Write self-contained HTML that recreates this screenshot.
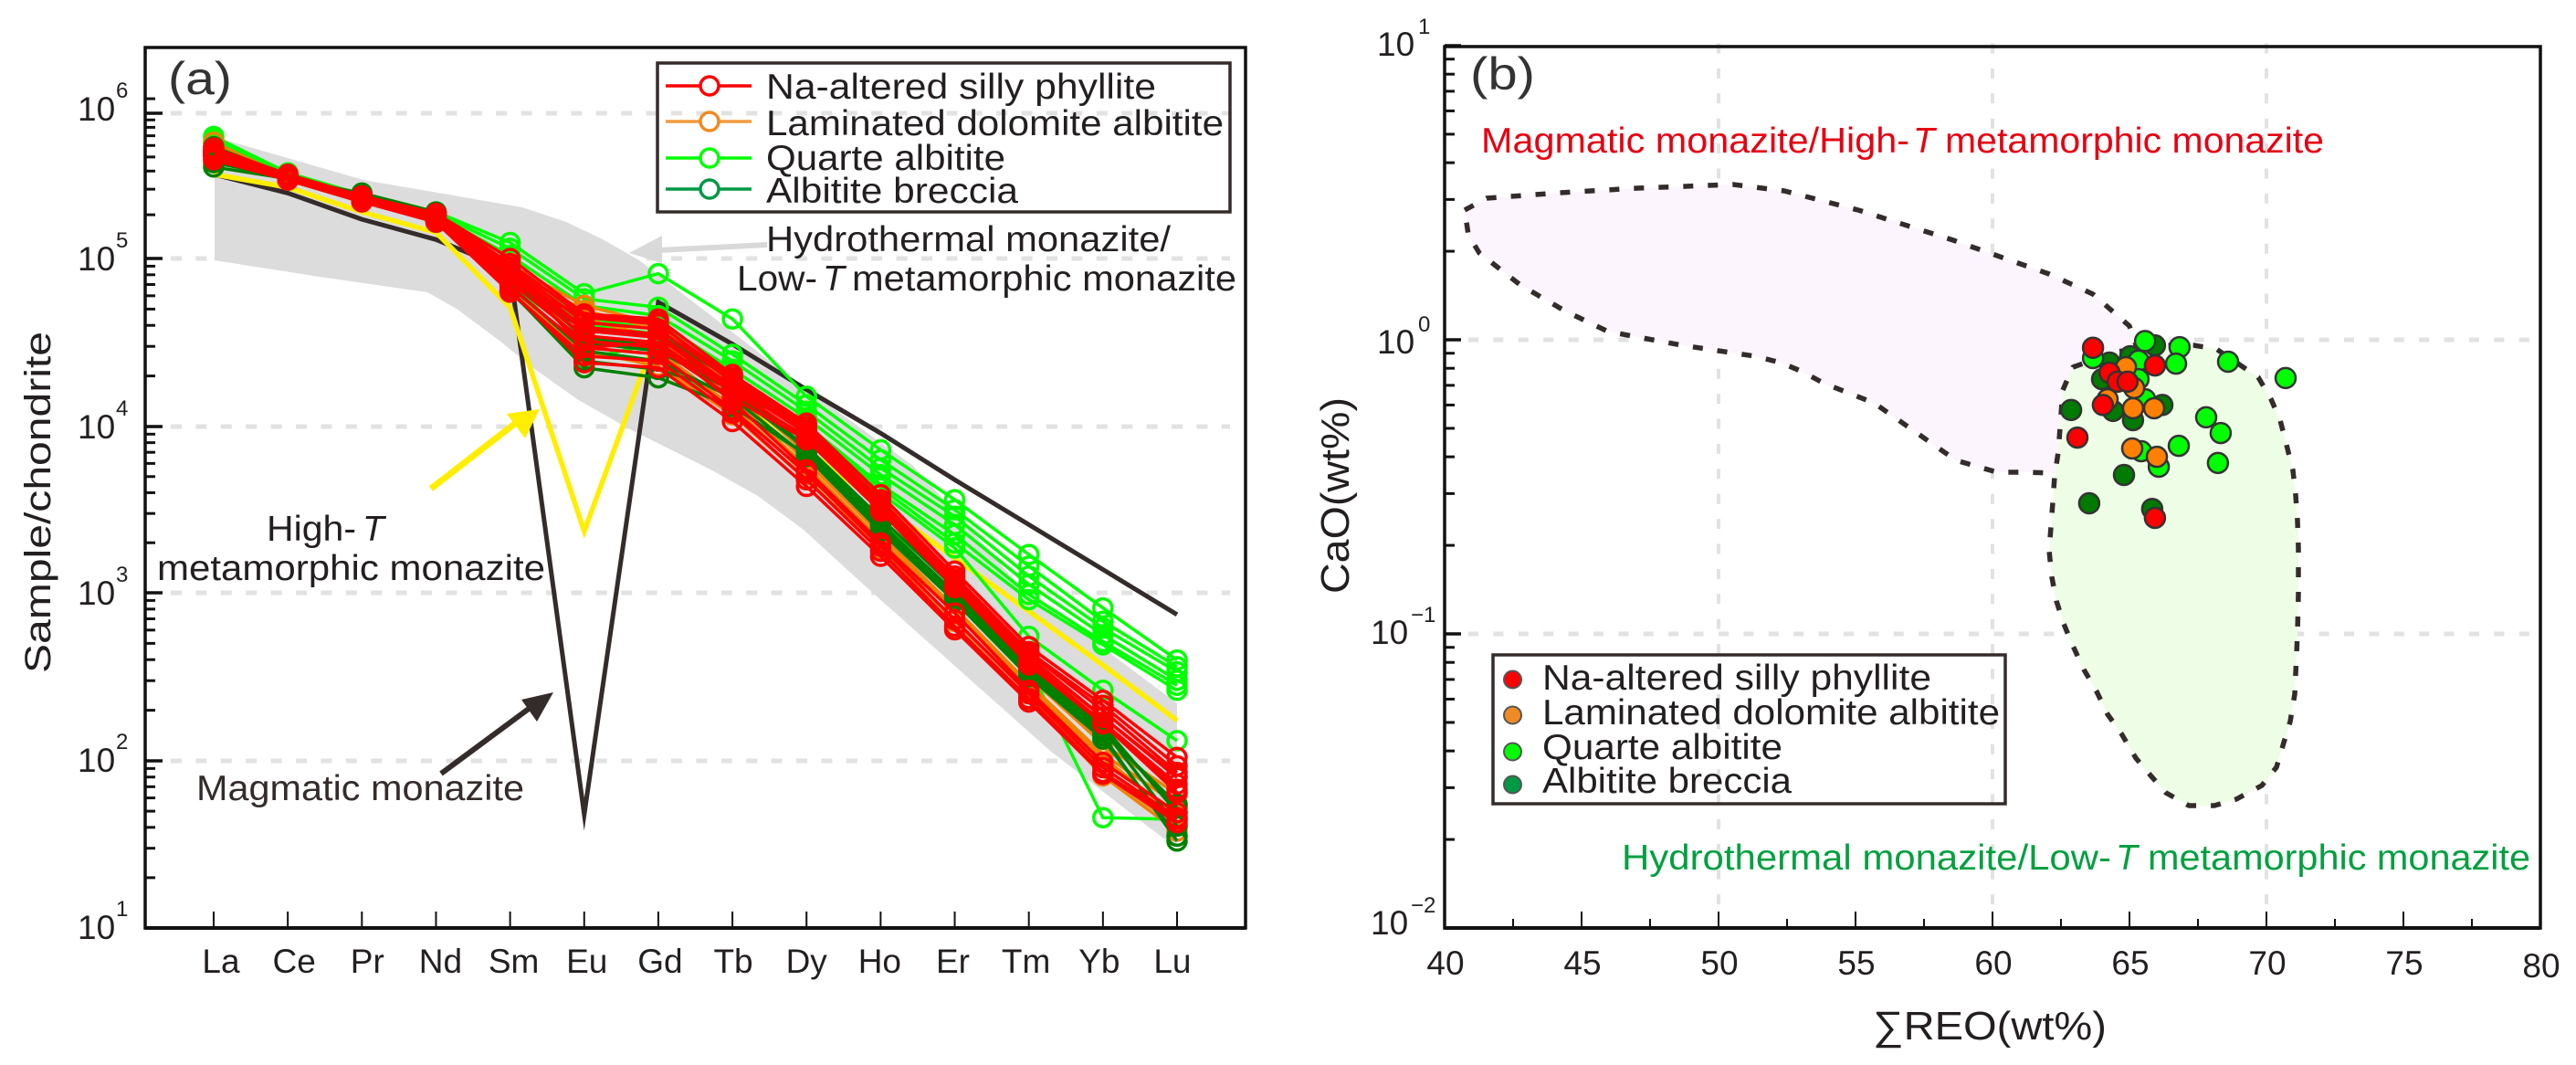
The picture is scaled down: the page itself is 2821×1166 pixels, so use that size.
<!DOCTYPE html>
<html lang="en">
<head>
<meta charset="utf-8">
<title>REE patterns and CaO vs total REO of monazite</title>
<style>
html,body{margin:0;padding:0;background:#fff;}
svg{display:block;}
text{font-family:"Liberation Sans",Arial,sans-serif;fill:#231f20;}
</style>
</head>
<body>
<svg id="figure" xmlns="http://www.w3.org/2000/svg" width="2821" height="1166" viewBox="0 0 2821 1166">
  <rect width="2821" height="1166" fill="#fff"/>

  <g id="panel-a">
    <g id="a-grid"></g>
    <path fill="#dcdcdc" d="M235,150 L398,197 L572,227 L620,243 L660,262 L700,285 L730,308 L800,362 L875,420 L1000,510 L1050,565 L1115,640 L1289,770 L1289,927 L1273,917 L1150,822 L1077,757 L949,643 L880,580 L830,543 L780,515 L690,470 L632,437 L580,400 L547,373 L500,338 L468,320 L350,303 L235,285 Z"/>
    <g id="a-reference"></g>
    <g id="a-series"></g>

    <g>
      <line x1="840" y1="268" x2="722" y2="274" stroke="#d9d9d9" stroke-width="6"/>
      <polygon points="689,277 725,258 725,288" fill="#d9d9d9"/>
    </g>
    <g>
      <line x1="472" y1="535" x2="570" y2="459" stroke="#ffee00" stroke-width="7"/>
      <polygon points="591,448 555,453 575,480" fill="#ffee00"/>
    </g>
    <g>
      <line x1="483" y1="847" x2="583" y2="773" stroke="#332c2a" stroke-width="6"/>
      <polygon points="606,758 571,766 588,790" fill="#332c2a"/>
    </g>

    <g id="a-axes"></g>
    <rect x="159" y="52" width="1205" height="964" fill="none" stroke="#111" stroke-width="3.5"/>
    <line x1="159" y1="1016" x2="1364" y2="1016" stroke="#111" stroke-width="4"/>

    <text x="184" y="103" font-size="50" textLength="70" lengthAdjust="spacingAndGlyphs" style="fill:#333">(a)</text>
    <text transform="translate(55,737) rotate(-90)" x="0" y="0" font-size="40" textLength="374" lengthAdjust="spacingAndGlyphs">Sample/chondrite</text>

    <g>
      <rect x="720" y="69" width="627" height="163" fill="none" stroke="#332c2a" stroke-width="3.5"/>
      <g>
        <line x1="729" y1="94" x2="823" y2="94" stroke="#ff0000" stroke-width="3.5"/>
        <circle cx="777" cy="94" r="10" fill="#fff" stroke="#ff0000" stroke-width="3.5"/>
        <text x="839" y="108" font-size="39" textLength="427" lengthAdjust="spacingAndGlyphs">Na-altered silly phyllite</text>
      </g>
      <g>
        <line x1="729" y1="133" x2="823" y2="133" stroke="#f39a3f" stroke-width="3.5"/>
        <circle cx="777" cy="133" r="10" fill="#fff" stroke="#f08a24" stroke-width="3.5"/>
        <text x="839" y="148" font-size="39" textLength="501" lengthAdjust="spacingAndGlyphs">Laminated dolomite albitite</text>
      </g>
      <g>
        <line x1="729" y1="173" x2="823" y2="173" stroke="#00ff00" stroke-width="3.5"/>
        <circle cx="777" cy="173" r="10" fill="#fff" stroke="#00ff00" stroke-width="3.5"/>
        <text x="839" y="186" font-size="39" textLength="262" lengthAdjust="spacingAndGlyphs">Quarte albitite</text>
      </g>
      <g>
        <line x1="729" y1="207" x2="823" y2="207" stroke="#009944" stroke-width="3.5"/>
        <circle cx="777" cy="207" r="10" fill="#fff" stroke="#009944" stroke-width="3.5"/>
        <text x="839" y="222" font-size="39" textLength="276" lengthAdjust="spacingAndGlyphs">Albitite breccia</text>
      </g>
    </g>

    <text x="839" y="275" font-size="39" textLength="443" lengthAdjust="spacingAndGlyphs">Hydrothermal monazite/</text>
    <text x="807" y="318" font-size="39" textLength="88" lengthAdjust="spacingAndGlyphs">Low-</text>
    <text x="901" y="318" font-size="39" font-style="italic">T</text>
    <text x="933" y="318" font-size="39" textLength="421" lengthAdjust="spacingAndGlyphs">metamorphic monazite</text>
    <text x="292" y="592" font-size="39" textLength="98" lengthAdjust="spacingAndGlyphs">High-</text>
    <text x="397" y="592" font-size="39" font-style="italic">T</text>
    <text x="172" y="635" font-size="39" textLength="425" lengthAdjust="spacingAndGlyphs">metamorphic monazite</text>
    <text x="215" y="876" font-size="39" textLength="359" lengthAdjust="spacingAndGlyphs" style="fill:#332c2a">Magmatic monazite</text>
  </g>

  <g id="panel-b">
    <g id="b-grid"></g>
    <path fill="#fdf5fd" stroke="#332c2a" stroke-width="5.5" stroke-dasharray="11 16" stroke-linejoin="round" d="M1604,230 L1628,217 L1709,211 L1793,206 L1898,202 L1954,209 L2035,230 L2139,263 L2244,300 L2292,322 L2332,357 L2345,395 L2372,410 L2372,440 L2338,478 L2313,492 L2288,505 L2263,515 L2248,518 L2220,517 L2187,517 L2142,504 L2052,441 L1998,420 L1974,407 L1950,397 L1922,390 L1842,378 L1761,363 L1713,340 L1665,312 L1620,277 L1608,257 Z"/>
    <path fill="#eefde6" stroke="none" d="M2270,402 L2318,385 L2377,378 L2402,378 L2427,382 L2473,413 L2487,437 L2497,460 L2504,487 L2511,515 L2514,542 L2516,570 L2517,600 L2517,650 L2516,693 L2513,760 L2508,790 L2501,813 L2493,840 L2477,860 L2449,875 L2425,882 L2397,882 L2372,868 L2356,850 L2339,830 L2323,803 L2308,782 L2296,757 L2282,733 L2270,707 L2260,683 L2252,658 L2247,632 L2244,603 L2246,577 L2248,550 L2250,522 L2254,495 L2256,468 L2259,427 Z"/>
    <path fill="none" stroke="#332c2a" stroke-width="5.5" stroke-dasharray="11 16" stroke-linejoin="round" d="M2270,402 L2318,385 L2377,378 L2402,378 L2427,382 L2473,413 L2487,437 L2497,460 L2504,487 L2511,515 L2514,542 L2516,570 L2517,600 L2517,650 L2516,693 L2513,760 L2508,790 L2501,813 L2493,840 L2477,860 L2449,875 L2425,882 L2397,882 L2372,868 L2356,850 L2339,830 L2323,803 L2308,782 L2296,757 L2282,733 L2270,707 L2260,683 L2252,658 L2247,632 L2244,603 L2246,577 L2248,550 L2250,522 L2254,495 L2256,468 L2259,427 Z"/>
    <g id="b-points"></g>
    <g id="b-axes"></g>
    <rect x="1582" y="51" width="1200" height="965" fill="none" stroke="#111" stroke-width="3.5"/>
    <line x1="1582" y1="1016" x2="2782" y2="1016" stroke="#111" stroke-width="4"/>

    <text x="1610" y="98" font-size="50" textLength="71" lengthAdjust="spacingAndGlyphs" style="fill:#333">(b)</text>
    <text x="1622" y="167" font-size="39" textLength="469" lengthAdjust="spacingAndGlyphs" style="fill:#e60012">Magmatic monazite/High-</text>
    <text x="2095" y="167" font-size="39" font-style="italic" style="fill:#e60012">T</text>
    <text x="2130" y="167" font-size="39" textLength="415" lengthAdjust="spacingAndGlyphs" style="fill:#e60012">metamorphic monazite</text>
    <text x="1776" y="952" font-size="39" textLength="536" lengthAdjust="spacingAndGlyphs" style="fill:#00a040">Hydrothermal monazite/Low-</text>
    <text x="2317" y="952" font-size="39" font-style="italic" style="fill:#00a040">T</text>
    <text x="2352" y="952" font-size="39" textLength="419" lengthAdjust="spacingAndGlyphs" style="fill:#00a040">metamorphic monazite</text>

    <g>
      <rect x="1635" y="717" width="561" height="163" fill="none" stroke="#332c2a" stroke-width="3.5"/>
      <g>
        <circle cx="1656.5" cy="744" r="9.5" fill="#ff0000" stroke="#555" stroke-width="2"/>
        <text x="1689" y="755" font-size="39" textLength="426" lengthAdjust="spacingAndGlyphs">Na-altered silly phyllite</text>
      </g>
      <g>
        <circle cx="1656.5" cy="783" r="9.5" fill="#f08a24" stroke="#555" stroke-width="2"/>
        <text x="1689" y="793" font-size="39" textLength="501" lengthAdjust="spacingAndGlyphs">Laminated dolomite albitite</text>
      </g>
      <g>
        <circle cx="1656.5" cy="823" r="9.5" fill="#00ff00" stroke="#555" stroke-width="2"/>
        <text x="1689" y="831" font-size="39" textLength="263" lengthAdjust="spacingAndGlyphs">Quarte albitite</text>
      </g>
      <g>
        <circle cx="1656.5" cy="859" r="9.5" fill="#009944" stroke="#555" stroke-width="2"/>
        <text x="1689" y="868" font-size="39" textLength="273" lengthAdjust="spacingAndGlyphs">Albitite breccia</text>
      </g>
    </g>

    <text x="2051" y="1138" font-size="44" textLength="256" lengthAdjust="spacingAndGlyphs">∑REO(wt%)</text>
    <text transform="translate(1477,650) rotate(-90)" x="0" y="0" font-size="44" textLength="215" lengthAdjust="spacingAndGlyphs">CaO(wt%)</text>
  </g>
</svg>

<script>
// ---------- Panel (a): chondrite-normalised REE patterns, values are log10(sample/chondrite) ----------
const elements = ['La','Ce','Pr','Nd','Sm','Eu','Gd','Tb','Dy','Ho','Er','Tm','Yb','Lu'];
const aDecades = [6,5,4,3,2,1];
const aMinorMantissas = [2,3,4,5,6,7,8,9];

const magmaticReference = [5.58,5.45,5.27,5.13,4.93,1.68,4.74,4.49,4.22,3.96,3.68,3.41,3.14,2.87];
const highTReference    = [5.58,5.49,5.32,5.18,4.71,3.37,4.58,4.20,3.86,3.53,3.21,2.89,2.57,2.24];

const quarteAlbitite = [
  [5.82,5.58,5.43,5.32,5.11,4.79,4.91,4.64,4.18,3.86,3.56,3.23,2.91,2.60],
  [5.80,5.58,5.43,5.31,5.07,4.76,4.71,4.43,4.13,3.80,3.50,3.16,2.83,2.56],
  [5.78,5.56,5.42,5.30,5.02,4.72,4.66,4.39,4.09,3.75,3.46,3.10,2.79,2.53],
  [5.84,5.59,5.44,5.32,4.96,4.66,4.62,4.34,4.05,3.71,3.41,3.05,2.75,2.48],
  [5.77,5.56,5.41,5.29,4.93,4.64,4.58,4.28,4.01,3.65,3.35,2.99,2.71,2.45],
  [5.76,5.55,5.40,5.28,4.91,4.61,4.55,4.26,3.98,3.63,3.30,2.96,2.69,2.42],
  [5.74,5.55,5.40,5.27,4.88,4.40,4.50,4.20,3.93,3.60,3.27,2.74,2.42,2.12],
  [5.71,5.54,5.39,5.26,4.83,4.45,4.39,4.12,3.82,3.43,3.05,2.56,1.66,1.65]
];
const albititeBreccia = [
  [5.63,5.55,5.45,5.32,4.81,4.35,4.29,4.12,3.83,3.38,2.97,2.52,2.15,1.52],
  [5.66,5.56,5.44,5.30,4.80,4.39,4.34,4.20,3.87,3.42,3.00,2.55,2.19,1.61],
  [5.71,5.57,5.43,5.29,4.88,4.50,4.45,4.21,3.88,3.45,3.03,2.56,2.21,1.69],
  [5.74,5.56,5.43,5.27,4.91,4.53,4.48,4.24,3.86,3.41,2.99,2.54,2.18,1.72],
  [5.77,5.57,5.42,5.26,4.85,4.58,4.55,4.28,3.85,3.40,2.98,2.53,2.17,1.74],
  [5.68,5.55,5.40,5.25,4.84,4.45,4.39,4.17,3.82,3.37,2.95,2.50,2.13,1.55]
];
const laminatedDolomite = [
  [5.77,5.55,5.41,5.27,4.91,4.64,4.53,4.16,3.76,3.32,2.89,2.44,2.02,1.67],
  [5.71,5.55,5.40,5.26,4.85,4.55,4.45,4.12,3.71,3.30,2.83,2.40,1.93,1.61],
  [5.74,5.56,5.42,5.28,4.93,4.69,4.58,4.20,3.79,3.35,2.91,2.46,2.04,1.74],
  [5.68,5.54,5.40,5.26,4.80,4.45,4.36,4.07,3.68,3.27,2.80,2.37,1.91,1.58],
  [5.80,5.56,5.43,5.29,4.96,4.72,4.61,4.23,3.84,3.41,2.97,2.50,2.10,1.80]
];
const naAlteredPhyllite = [
  [5.76,5.58,5.43,5.31,5.00,4.67,4.64,4.31,4.02,3.59,3.13,2.68,2.36,2.02],
  [5.74,5.57,5.43,5.30,4.97,4.65,4.61,4.29,4.00,3.56,3.10,2.65,2.33,1.97],
  [5.73,5.56,5.42,5.30,4.95,4.62,4.58,4.27,3.98,3.54,3.08,2.64,2.30,1.93],
  [5.72,5.56,5.42,5.29,4.93,4.59,4.55,4.24,3.96,3.52,3.06,2.61,2.26,1.90],
  [5.71,5.56,5.41,5.28,4.91,4.57,4.53,4.22,3.93,3.50,3.04,2.59,2.23,1.86],
  [5.74,5.57,5.42,5.28,4.89,4.54,4.50,4.20,3.94,3.51,3.05,2.59,2.23,1.83],
  [5.71,5.55,5.40,5.27,4.86,4.51,4.47,4.17,3.92,3.49,3.03,2.57,2.22,1.81],
  [5.70,5.55,5.40,5.27,4.85,4.66,4.62,4.26,3.97,3.53,3.07,2.62,2.26,1.91],
  [5.72,5.55,5.40,5.26,4.83,4.47,4.43,4.10,3.72,3.28,2.84,2.40,1.96,1.66],
  [5.71,5.54,5.39,5.26,4.81,4.38,4.35,4.03,3.64,3.22,2.78,2.35,1.92,1.63],
  [5.73,5.56,5.42,5.29,4.92,4.47,4.50,4.15,3.74,3.30,2.88,2.42,1.99,1.69],
  [5.68,5.54,5.39,5.25,4.80,4.42,4.39,4.08,3.68,3.25,2.80,2.37,1.93,1.65]
];

// ---------- Panel (b): CaO vs total REO, both in wt% ----------
const bXTicks = [40,45,50,55,60,65,70,75,80];
const bXMinorTicks = [42.5,47.5,52.5,57.5,62.5,67.5,72.5,77.5];
const bYExponents = [1,0,-1,-2];
const bMinorMantissas = [2,3,4,5,6,7,8,9];
const bXGridValues = [50,60,70];
const bYGridValues = [1,0.1];

const brecciaReo = [65.93,64.27,64.00,65.03,64.40,65.13,62.87,66.20,64.80,63.53,65.83];
const brecciaCao = [0.957,0.836,0.735,0.879,0.573,0.533,0.577,0.600,0.347,0.278,0.266];
const quarteReo  = [65.57,66.83,66.70,65.33,63.67,68.60,65.33,65.57,67.80,68.33,66.80,68.23,65.43,66.07,70.70];
const quarteCao  = [0.990,0.944,0.830,0.849,0.867,0.842,0.735,0.628,0.545,0.482,0.436,0.381,0.418,0.370,0.741];
const laminatedReo = [64.87,65.17,64.20,65.13,65.90,65.10,66.00];
const laminatedCao = [0.807,0.685,0.628,0.585,0.585,0.427,0.400];
const phylliteReo  = [63.67,64.27,64.57,64.93,65.93,64.03,63.10,65.93];
const phylliteCao  = [0.940,0.773,0.720,0.720,0.818,0.600,0.465,0.248];

// ---------- Helpers ----------
const NS = 'http://www.w3.org/2000/svg';
function make(tag, attrs, parent) {
  const node = document.createElementNS(NS, tag);
  for (const key in attrs) node.setAttribute(key, attrs[key]);
  parent.appendChild(node);
  return node;
}
function kebab(str) { return String(str).toLowerCase().replace(/[^a-z0-9]+/g, '-'); }

// Panel (a) axis functions (the decades of the reference are not quite uniform)
const aDecadeRows = [[6,124],[5,283],[4,467],[3,649],[2,833],[1,1016]];
function xA(i) { return 234 + i * (1289 - 234) / 13; }
function yA(logValue) {
  if (logValue >= 5) return 283 - (logValue - 5) * 159;
  for (let k = 1; k < aDecadeRows.length - 1; k++) {
    if (logValue >= aDecadeRows[k + 1][0]) {
      const top = aDecadeRows[k], bottom = aDecadeRows[k + 1];
      return top[1] + (top[0] - logValue) * (bottom[1] - top[1]);
    }
  }
  return 1016;
}
// Panel (b) axis functions
function xB(reo) { return 1582 + (reo - 40) * 30; }
function yB(cao) { return 372 - Math.log10(cao) * 322; }

// ---------- Panel (a) axes ----------
const aGrid = document.getElementById('a-grid');
const aAxes = document.getElementById('a-axes');

aDecades.slice(0, 5).forEach(function (e) {
  const gridLine = make('line', {x1:187, x2:1347, y1:yA(e), y2:yA(e), stroke:'#e2e2e2', 'stroke-width':5, 'stroke-dasharray':'12 15.4'}, aGrid);
  
  
});

aDecades.forEach(function (e) {
  if (e > 1) {
    const major = make('line', {x1:159, x2:178, y1:yA(e), y2:yA(e), stroke:'#111', 'stroke-width':3.5}, aAxes);
    
    
  }
  const base = yA(e) + (e === 6 ? 8 : e <= 2 ? 12 : 13);
  const label = make('text', {x:85, y:base, 'font-size':37}, aAxes);
  label.textContent = '10';
  
  
  const sup = make('text', {x:127, y:base - 25, 'font-size':24}, aAxes);
  sup.textContent = String(e);
  
  
  aMinorMantissas.forEach(function (m) {
    if (e === 6) return;
    const minor = make('line', {x1:159, x2:170, y1:yA(e + Math.log10(m)), y2:yA(e + Math.log10(m)), stroke:'#111', 'stroke-width':3}, aAxes);
    
    
  });
});
const topTick = make('line', {x1:159, x2:170, y1:yA(6.1), y2:yA(6.1), stroke:'#111', 'stroke-width':3}, aAxes);



elements.forEach(function (name, i) {
  const tick = make('line', {x1:xA(i), x2:xA(i), y1:998, y2:1016, stroke:'#111', 'stroke-width':2}, aAxes);
  
  
  const label = make('text', {x:242 + i * 80.15, y:1065, 'font-size':37, 'text-anchor':'middle'}, aAxes);
  label.textContent = name;
  
  
});

// ---------- Panel (a) series ----------
const aReference = document.getElementById('a-reference');
const aSeries = document.getElementById('a-series');
function linePoints(values) {
  return values.map(function (v, i) { return xA(i).toFixed(1) + ',' + yA(v).toFixed(1); }).join(' ');
}
const magmaticLine = make('polyline', {points:linePoints(magmaticReference), fill:'none', stroke:'#332c2a', 'stroke-width':5, 'stroke-linejoin':'miter', 'stroke-miterlimit':40}, aReference);


const highTLine = make('polyline', {points:linePoints(highTReference), fill:'none', stroke:'#ffee00', 'stroke-width':5.5, 'stroke-linejoin':'miter', 'stroke-miterlimit':40}, aReference);



function drawSeries(samples, colour, seriesName) {
  samples.forEach(function (values, s) {
    const group = make('g', {}, aSeries);
    
    
    const line = make('polyline', {points:linePoints(values), fill:'none', stroke:colour, 'stroke-width':3.5}, group);
    
    
    values.forEach(function (v, i) {
      const marker = make('circle', {cx:xA(i).toFixed(1), cy:yA(v).toFixed(1), r:10, fill:'none', stroke:colour, 'stroke-width':3.5}, group);
      
      
    });
  });
}
drawSeries(quarteAlbitite, '#00ff00', 'quarte-albitite');
drawSeries(laminatedDolomite, '#f08200', 'laminated-dolomite');
drawSeries(albititeBreccia, '#008000', 'albitite-breccia');
drawSeries(naAlteredPhyllite, '#ff0000', 'na-altered-phyllite');

// ---------- Panel (b) axes ----------
const bGrid = document.getElementById('b-grid');
const bAxes = document.getElementById('b-axes');

bXGridValues.forEach(function (v) {
  const gridLine = make('line', {x1:xB(v), x2:xB(v), y1:47.5, y2:998, stroke:'#e2e2e2', 'stroke-width':4, 'stroke-dasharray':'11 16.4'}, bGrid);
  
  
});
bYGridValues.forEach(function (v) {
  const gridLine = make('line', {x1:1608, x2:2771, y1:yB(v), y2:yB(v), stroke:'#e2e2e2', 'stroke-width':5, 'stroke-dasharray':'11 16.4'}, bGrid);
  
  
});

bXTicks.forEach(function (v) {
  const tick = make('line', {x1:xB(v), x2:xB(v), y1:998, y2:1016, stroke:'#111', 'stroke-width':2}, bAxes);
  
  
  const label = make('text', {x:xB(v) + 1, y:v === 80 ? 1070 : 1067, 'font-size':37, 'text-anchor':'middle'}, bAxes);
  label.textContent = String(v);
  
  
});
bXMinorTicks.forEach(function (v) {
  const tick = make('line', {x1:xB(v), x2:xB(v), y1:1006, y2:1016, stroke:'#111', 'stroke-width':2}, bAxes);
  
  
});

bYExponents.forEach(function (e) {
  const level = yB(Math.pow(10, e));
  const tick = make('line', {x1:1582, x2:1600, y1:level, y2:level, stroke:'#111', 'stroke-width':3.5}, bAxes);
  
  
  const base = level + (e === 0 ? 15 : e === -2 ? 7 : 11);
  const label = make('text', {x:e < 0 ? 1501 : 1508, y:base, 'font-size':37}, bAxes);
  label.textContent = '10';
  
  
  const sup = make('text', {x:e < 0 ? 1545 : 1553, y:base - 24, 'font-size':24}, bAxes);
  sup.textContent = String(e).replace('-', '\u2212');
  
  
  if (e > -2) {
    bMinorMantissas.forEach(function (m) {
      const at = yB(Math.pow(10, e - 1) * m);
      const minor = make('line', {x1:1582, x2:1593, y1:at, y2:at, stroke:'#111', 'stroke-width':3}, bAxes);
      
      
    });
  }
});

// ---------- Panel (b) points ----------
const bPoints = document.getElementById('b-points');
function drawScatter(reo, cao, colour, seriesName) {
  reo.forEach(function (v, i) {
    const dot = make('circle', {cx:xB(v).toFixed(1), cy:yB(cao[i]).toFixed(1), r:11, fill:colour, stroke:'#333', 'stroke-width':2.5}, bPoints);
    
    
  });
}
drawScatter(brecciaReo, brecciaCao, '#007a00', 'albitite-breccia');
drawScatter(quarteReo, quarteCao, '#00ff00', 'quarte-albitite');
drawScatter(laminatedReo, laminatedCao, '#ff8000', 'laminated-dolomite');
drawScatter(phylliteReo, phylliteCao, '#ff0000', 'na-altered-phyllite');
</script>
</body>
</html>
